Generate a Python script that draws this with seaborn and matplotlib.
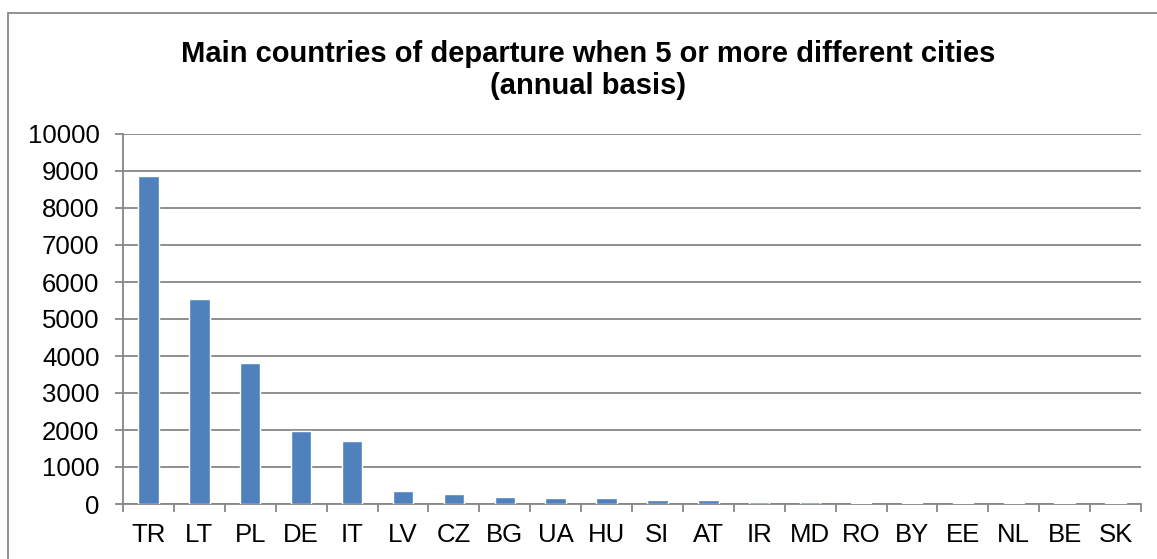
import matplotlib
matplotlib.use("Agg")
import matplotlib.pyplot as plt
import seaborn as sns
import pandas as pd
from matplotlib.patches import Rectangle

countries = ["TR", "LT", "PL", "DE", "IT", "LV", "CZ", "BG", "UA", "HU",
             "SI", "AT", "IR", "MD", "RO", "BY", "EE", "NL", "BE", "SK"]
values = [8860, 5550, 3810, 1980, 1710, 340, 260, 185, 165, 160,
          120, 110, 55, 45, 40, 38, 30, 28, 20, 15]
y_ticks = list(range(0, 10001, 1000))
title = "Main countries of departure when 5 or more different cities\n(annual basis)"

sns.set_theme(style="white")
plt.rcParams["font.family"] = ["Liberation Sans", "DejaVu Sans"]

df = pd.DataFrame({"country": countries, "value": values})

W, H = 1157, 559
fig = plt.figure(figsize=(W / 100, H / 100), dpi=100)
ax = fig.add_axes([123 / W, 1 - 504 / H, (1141 - 123) / W, (504 - 134) / H])

sns.barplot(data=df, x="country", y="value", color="#4F81BD", saturation=1,
            width=0.4, ax=ax, zorder=3)

grid_c = "#868686"
ax.set_ylim(0, 10000)
ax.set_xlim(-0.5, len(countries) - 0.5)
ax.set_yticks(y_ticks)
ax.set_yticklabels([str(v) for v in y_ticks], fontsize=18.5, color="black")
ax.yaxis.grid(True, color=grid_c, linewidth=1.3, zorder=0)
ax.set_axisbelow(True)
ax.set_xticks(range(len(countries)))
ax.set_xticklabels(countries, fontsize=18.5, color="black")
ax.tick_params(axis="x", length=0, pad=14)
ax.tick_params(axis="y", length=6, color=grid_c, width=1.3, direction="out", pad=11, left=True)
# minor ticks at category boundaries
ax.set_xticks([i - 0.5 for i in range(len(countries) + 1)], minor=True)
ax.tick_params(axis="x", which="minor", length=6, color=grid_c, width=1.3, direction="out", bottom=True)
ax.set_xlabel("")
ax.set_ylabel("")
for side in ["top", "right"]:
    ax.spines[side].set_visible(False)
for side in ["left", "bottom"]:
    ax.spines[side].set_color(grid_c)
    ax.spines[side].set_linewidth(1.3)

fig.text(588 / W, 1 - 70 / H, title, ha="center", va="center",
         fontsize=21, fontweight="bold", linespacing=1.22, color="black")

# outer border (right and bottom edges fall outside the canvas)
fig.patches.append(Rectangle((8 / W, -0.05), 1.05, 1 - 13 / H + 0.05,
                             transform=fig.transFigure, fill=False,
                             edgecolor="#888888", linewidth=1.3))

fig.savefig("out.png", dpi=100)
